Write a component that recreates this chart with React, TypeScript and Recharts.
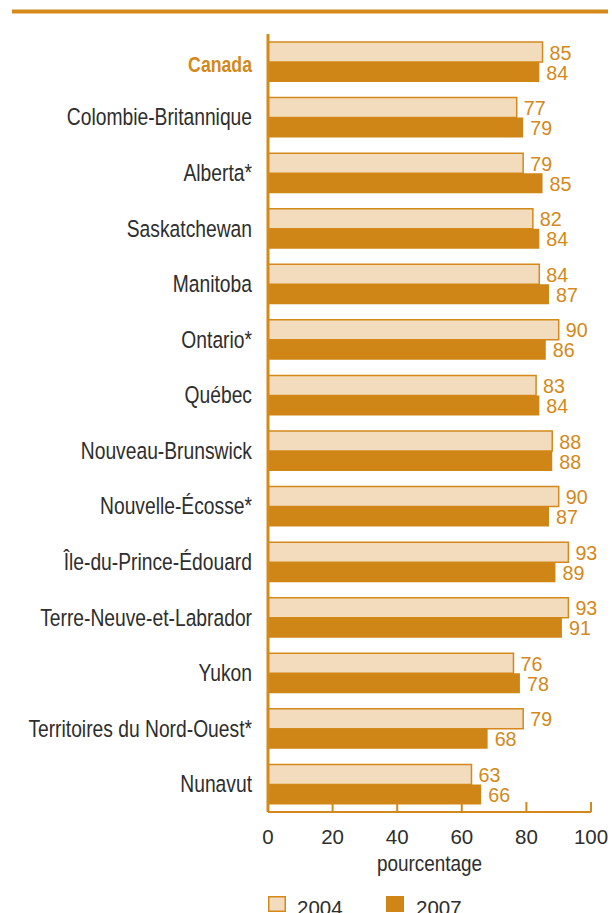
import React from 'react';
import { BarChart, Bar, XAxis, YAxis, LabelList } from 'recharts';

const categories = [
  'Canada',
  'Colombie-Britannique',
  'Alberta*',
  'Saskatchewan',
  'Manitoba',
  'Ontario*',
  'Québec',
  'Nouveau-Brunswick',
  'Nouvelle-Écosse*',
  'Île-du-Prince-Édouard',
  'Terre-Neuve-et-Labrador',
  'Yukon',
  'Territoires du Nord-Ouest*',
  'Nunavut',
];
const values2004 = [85, 77, 79, 82, 84, 90, 83, 88, 90, 93, 93, 76, 79, 63];
const values2007 = [84, 79, 85, 84, 87, 86, 84, 88, 87, 89, 91, 78, 68, 66];
const seriesNames = ['2004', '2007'];
const xTicks = [0, 20, 40, 60, 80, 100];
const axisLabel = 'pourcentage';

const data = categories.map((name, i) => ({
  name,
  v2004: values2004[i],
  v2007: values2007[i],
}));

const ORANGE = '#d4891a';
const DARK = '#d08616';
const LIGHT = '#f3dcbd';
const TEXT = '#2e2e2e';
const FONT = "'Liberation Sans', Arial, sans-serif";

const NarrowText = (props: any) => {
  const { x, y, sx = 1, anchor = 'start', size, weight = 'normal', color = TEXT, children } = props;
  return (
    <text
      transform={`translate(${x} ${y}) scale(${sx} 1)`}
      x={0}
      y={0}
      textAnchor={anchor}
      fontSize={size}
      fontWeight={weight}
      fill={color}
      fontFamily={FONT}
    >
      {children}
    </text>
  );
};

const XTick = (props: any) => {
  const { x, y, payload } = props;
  return (
    <g>
      <line x1={x} x2={x} y1={y - 10} y2={y} stroke={ORANGE} strokeWidth={2} />
      <NarrowText x={x} y={y + 32} anchor="middle" size={20.5}>
        {payload.value}
      </NarrowText>
    </g>
  );
};

const YTick = (props: any) => {
  const { x, y, payload } = props;
  const isCanada = payload.value === categories[0];
  if (isCanada) {
    return (
      <NarrowText x={x - 16} y={y + 10} anchor="end" size={22.4} sx={0.79} weight="bold" color={ORANGE}>
        {payload.value}
      </NarrowText>
    );
  }
  return (
    <NarrowText x={x - 16} y={y + 8} anchor="end" size={23.5} sx={0.82}>
      {payload.value}
    </NarrowText>
  );
};

const ValueLabel = (props: any) => {
  const { x, y, width, height, value } = props;
  return (
    <NarrowText x={x + width + 7} y={y + height / 2 + 7.5} size={21} sx={0.94} color={ORANGE}>
      {value}
    </NarrowText>
  );
};

const AxisTitle = (props: any) => {
  const { viewBox } = props;
  if (!viewBox) return null;
  return (
    <NarrowText x={viewBox.x + viewBox.width / 2} y={viewBox.y + 59} anchor="middle" size={21.5} sx={0.88}>
      {axisLabel}
    </NarrowText>
  );
};

export default function App() {
  return (
    <div style={{ position: 'absolute', left: 0, top: 0, width: 612, height: 913, overflow: 'hidden', background: '#fff' }}>
      <BarChart
        width={612}
        height={913}
        data={data}
        layout="vertical"
        margin={{ top: 34, right: 21, bottom: 41, left: 0 }}
        barGap={0}
        barSize={20}
      >
        <XAxis
          type="number"
          domain={[0, 100]}
          ticks={xTicks}
          height={60}
          tickSize={0}
          tickMargin={0}
          tickLine={false}
          axisLine={{ stroke: ORANGE, strokeWidth: 2 }}
          tick={<XTick />}
          interval={0}
          label={<AxisTitle />}
        />
        <YAxis
          type="category"
          dataKey="name"
          width={268}
          tickSize={0}
          tickMargin={0}
          tickLine={false}
          axisLine={{ stroke: ORANGE, strokeWidth: 3 }}
          tick={<YTick />}
          interval={0}
        />
        <Bar dataKey="v2004" name={seriesNames[0]} fill={LIGHT} stroke={ORANGE} strokeWidth={1.5} isAnimationActive={false}>
          <LabelList dataKey="v2004" content={<ValueLabel />} />
        </Bar>
        <Bar dataKey="v2007" name={seriesNames[1]} fill={DARK} isAnimationActive={false}>
          <LabelList dataKey="v2007" content={<ValueLabel />} />
        </Bar>
      </BarChart>
      <svg width={612} height={913} style={{ position: 'absolute', left: 0, top: 0, pointerEvents: 'none' }}>
        <line x1={12} x2={608} y1={11.5} y2={11.5} stroke={ORANGE} strokeWidth={4} />
        <rect x={268.75} y={896.75} width={16.5} height={14.5} fill={LIGHT} stroke={ORANGE} strokeWidth={1.5} />
        <NarrowText x={297} y={915} size={20.5}>{seriesNames[0]}</NarrowText>
        <rect x={386} y={896} width={18} height={16} fill={DARK} />
        <NarrowText x={416} y={915} size={20.5}>{seriesNames[1]}</NarrowText>
      </svg>
    </div>
  );
}
